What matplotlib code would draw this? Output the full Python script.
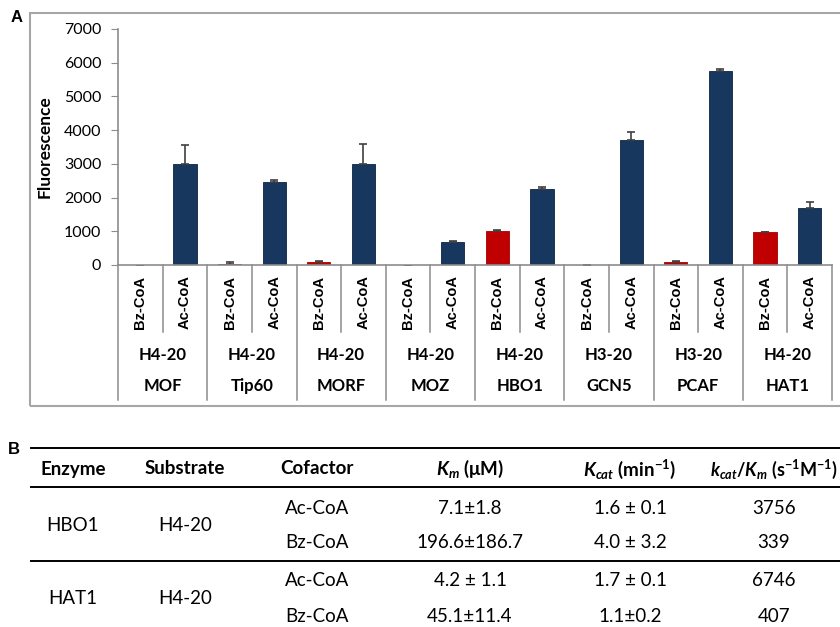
import matplotlib
matplotlib.use("Agg")
import matplotlib.pyplot as plt
import matplotlib.transforms as mtransforms
from matplotlib.patches import Rectangle
from matplotlib.lines import Line2D
import numpy as np

plt.rcParams['font.family'] = ['Lato', 'DejaVu Sans']
plt.rcParams['mathtext.fontset'] = 'custom'
plt.rcParams['mathtext.rm'] = 'Lato:bold'
plt.rcParams['mathtext.it'] = 'Lato:italic:bold'
plt.rcParams['mathtext.bf'] = 'Lato:bold'

# panel A data
enzymes = ["MOF", "Tip60", "MORF", "MOZ", "HBO1", "GCN5", "PCAF", "HAT1"]
substrates = ["H4-20", "H4-20", "H4-20", "H4-20", "H4-20", "H3-20", "H3-20", "H4-20"]
cofactors = ["Bz-CoA", "Ac-CoA"]
bz_vals = [-15, 40, 100, -20, 1000, 10, 90, 970]
bz_err = [0, 60, 15, 0, 50, 0, 20, 15]
ac_vals = [3000, 2450, 3000, 680, 2250, 3720, 5750, 1680]
ac_err = [570, 60, 580, 40, 65, 220, 60, 180]
yticks = [0, 1000, 2000, 3000, 4000, 5000, 6000, 7000]

# panel B table
tab_header = ["Enzyme", "Substrate", "Cofactor", r"$K_m$ (μM)",
              r"$K_{cat}$ (min$^{\mathbf{-1}}$)",
              r"$k_{cat}$/$K_m$ (s$^{\mathbf{-1}}$M$^{\mathbf{-1}}$)"]
tab_enzyme = ["HBO1", "HAT1"]
tab_substrate = ["H4-20", "H4-20"]
tab_cofactor = ["Ac-CoA", "Bz-CoA", "Ac-CoA", "Bz-CoA"]
tab_km = ["7.1±1.8", "196.6±186.7", "4.2 ± 1.1", "45.1±11.4"]
tab_kcat = ["1.6 ± 0.1", "4.0 ± 3.2", "1.7 ± 0.1", "1.1±0.2"]
tab_eff = ["3756", "339", "6746", "407"]

W, H = 840, 627
fig = plt.figure(figsize=(W/100, H/100), dpi=100)

def fx(x):
    return x/W

def fy(y):
    return 1 - y/H

navy = "#17375E"
red = "#C00000"
grey = "#8C8C8C"

# outer box of panel A
fig.patches.append(Rectangle((fx(30), fy(406)), fx(830), fy(13)-fy(406),
                             transform=fig.transFigure, fill=False,
                             edgecolor="#A6A6A6", lw=1.5))
fig.text(fx(17), fy(18), "A", fontsize=12, fontweight="bold",
         family="Liberation Sans", ha="center", va="center")

ax = fig.add_axes([fx(118), fy(265), fx(832)-fx(118), fy(29)-fy(265)])
n = len(enzymes)
x_bz = np.arange(n)*2
x_ac = x_bz + 1
ax.bar(x_bz, bz_vals, width=0.52, color=red, edgecolor="#A00000", lw=0.6,
       yerr=[np.zeros(n), bz_err], capsize=3,
       error_kw=dict(ecolor="#404040", elinewidth=1.2, capthick=1.2))
ax.bar(x_ac, ac_vals, width=0.52, color=navy, edgecolor="#0C2340", lw=0.6,
       yerr=[np.zeros(n), ac_err], capsize=3,
       error_kw=dict(ecolor="#404040", elinewidth=1.2, capthick=1.2))
ax.set_xlim(-0.5, 2*n - 0.5)
ax.set_ylim(0, 7000)
ax.set_yticks(yticks)
ax.tick_params(axis="y", labelsize=11.5, length=5, color=grey, pad=7)
ax.set_xticks([])
for s in ["top", "right"]:
    ax.spines[s].set_visible(False)
for s in ["left", "bottom"]:
    ax.spines[s].set_color(grey)
    ax.spines[s].set_linewidth(1.2)
ax.set_ylabel("Fluorescence", fontsize=12.5, fontweight="bold", labelpad=8)

# category table under the axis
trans = mtransforms.blended_transform_factory(ax.transData, ax.transAxes)
ax_h = 265 - 29
for i in range(2*n + 1):
    xb = i - 0.5
    bottom = 400 if i % 2 == 0 else 332
    ax.add_line(Line2D([xb, xb], [0, -(bottom-265)/ax_h], transform=trans,
                       color=grey, lw=1.1, clip_on=False))
for i in range(n):
    for j, c in enumerate(cofactors):
        ax.text(2*i + j, -(302-265)/ax_h, c, transform=trans, rotation=90,
                ha="center", va="center", fontsize=10.5, fontweight="bold",
                family="Liberation Sans")
    ax.text(2*i + 0.5, -(355-265)/ax_h, substrates[i], transform=trans,
            ha="center", va="center", fontsize=12, fontweight="bold")
    ax.text(2*i + 0.5, -(386-265)/ax_h, enzymes[i], transform=trans,
            ha="center", va="center", fontsize=12, fontweight="bold")

# panel B
fig.text(fx(14), fy(449), "B", fontsize=12, fontweight="bold",
         family="Liberation Sans", ha="center", va="center")
for yl in [448, 487, 561]:
    fig.add_artist(Line2D([fx(31), 1.0], [fy(yl), fy(yl)], color="black",
                          lw=1.4, transform=fig.transFigure))

col_x = [73, 185, 317, 470, 630, 774]
for cx, h in zip(col_x, tab_header):
    fig.text(fx(cx), fy(469), h, fontsize=13.5 if cx < 700 else 13,
             fontweight="bold", ha="center", va="center")

row_y = [508, 543, 581, 616]
for k in range(2):
    ym = (row_y[2*k] + row_y[2*k+1]) / 2
    fig.text(fx(col_x[0]), fy(ym), tab_enzyme[k], fontsize=13.5,
             ha="center", va="center")
    fig.text(fx(col_x[1]), fy(ym), tab_substrate[k], fontsize=13.5,
             ha="center", va="center")
for r in range(4):
    for cx, col in zip(col_x[2:], [tab_cofactor, tab_km, tab_kcat, tab_eff]):
        fig.text(fx(cx), fy(row_y[r]), col[r], fontsize=13.5,
                 ha="center", va="center")

fig.savefig("out.png", dpi=100)
